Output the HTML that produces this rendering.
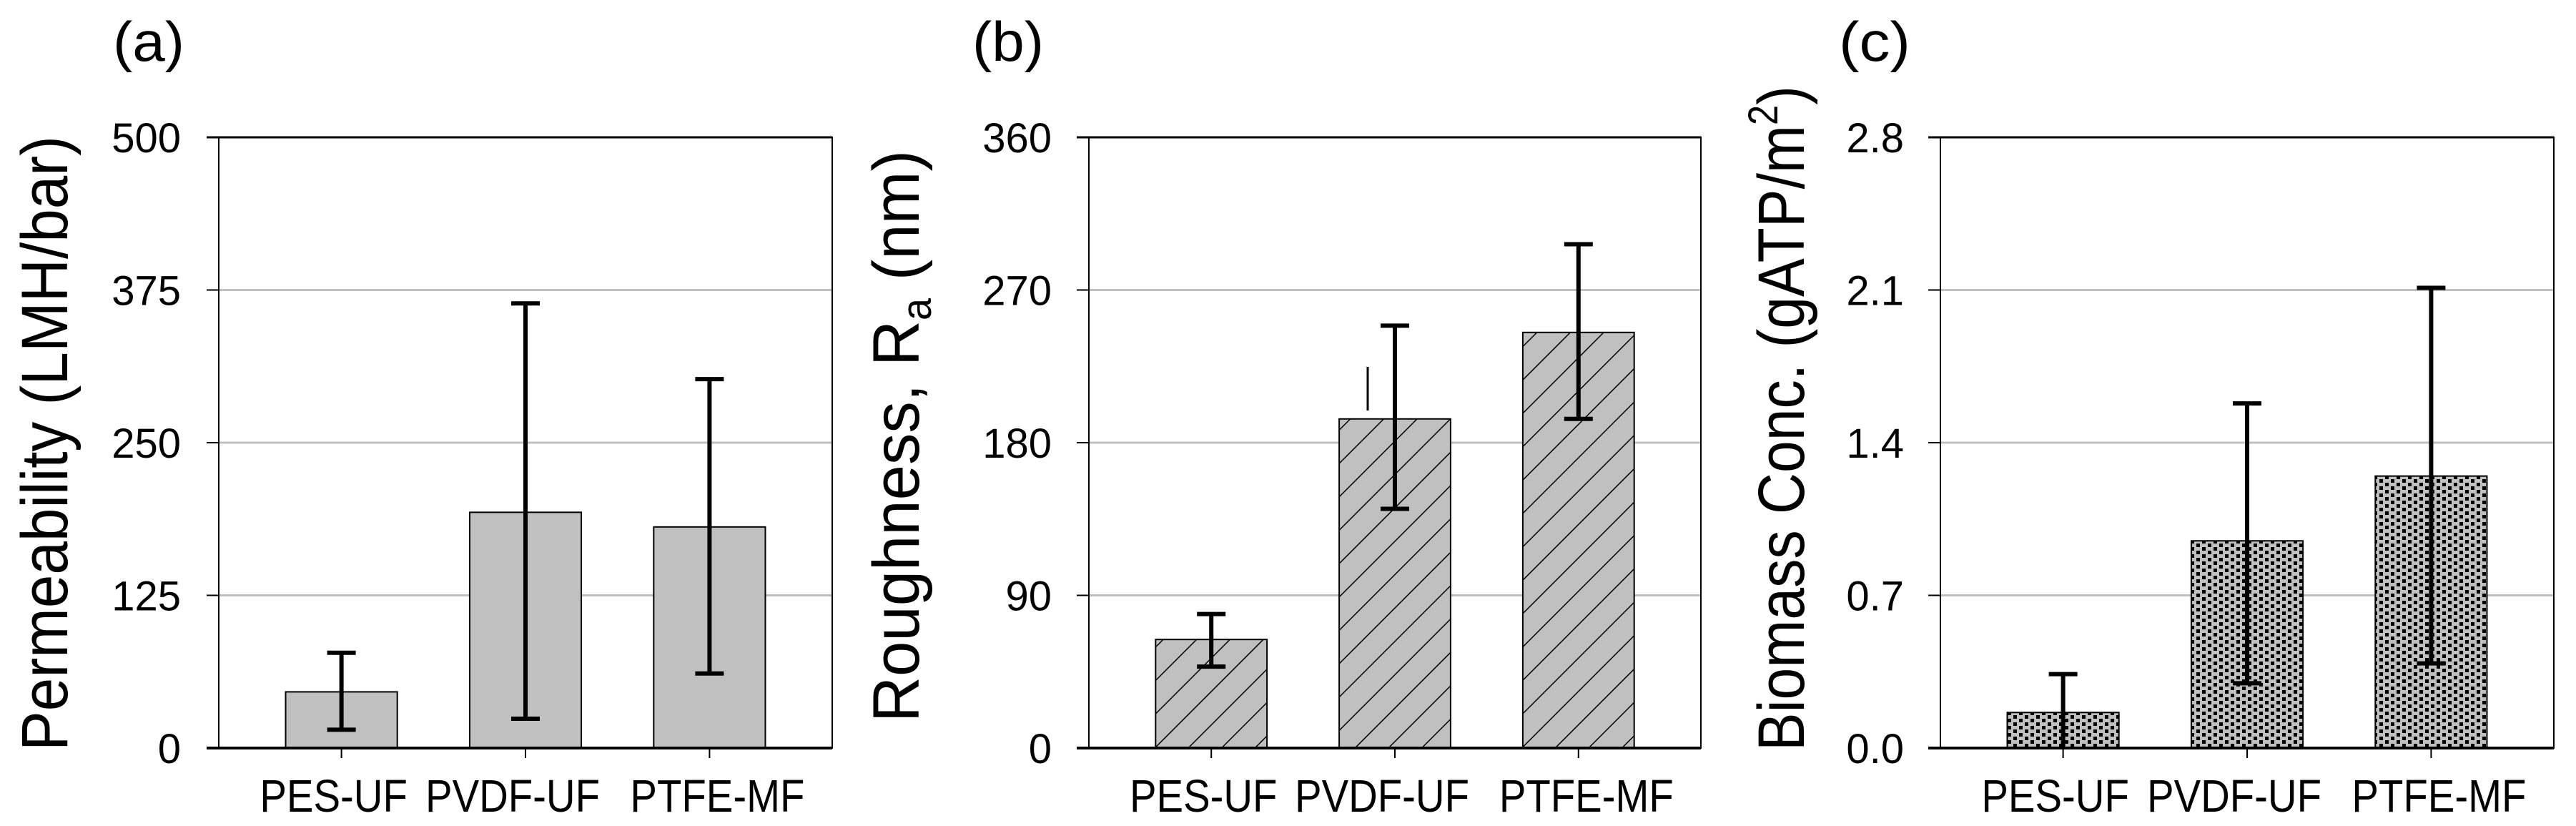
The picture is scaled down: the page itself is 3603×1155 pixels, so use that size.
<!DOCTYPE html>
<html><head><meta charset="utf-8"><style>
html,body{margin:0;padding:0;background:#fff;}
svg{display:block;font-family:"Liberation Sans",Arial,sans-serif;}
</style></head><body>
<svg id="fig" width="3603" height="1155" viewBox="0 0 3603 1155" xmlns="http://www.w3.org/2000/svg">
<defs>
<pattern id="hatch" patternUnits="userSpaceOnUse" width="33" height="33" patternTransform="rotate(45)">
<rect width="33" height="33" fill="#c0c0c0"/><line x1="0" y1="0" x2="0" y2="33" stroke="#000" stroke-width="3"/>
</pattern>
<pattern id="dots" patternUnits="userSpaceOnUse" width="16" height="10">
<rect width="16" height="10" fill="#c0c0c0"/><rect x="0" y="0" width="5" height="5" fill="#000"/><rect x="8" y="5" width="5" height="5" fill="#000"/>
</pattern>
</defs>
</svg>
<script>
const categories = ["PES-UF","PVDF-UF","PTFE-MF"];
const permValues = [46, 193, 181];
const permErrLow = [15, 24, 61];
const permErrHigh = [78, 364, 302];
const permTicks = ["0","125","250","375","500"];
const roughValues = [64, 194, 245];
const roughErrLow = [48, 141, 194];
const roughErrHigh = [79, 249, 297];
const roughTicks = ["0","90","180","270","360"];
const bioValues = [0.163, 0.95, 1.247];
const bioErrLow = [0, 0.297, 0.388];
const bioErrHigh = [0.339, 1.58, 2.11];
const bioTicks = ["0.0","0.7","1.4","2.1","2.8"];

const NS = "http://www.w3.org/2000/svg";
const svg = document.getElementById('fig');
function mk(tag, attrs, parent){
  const e = document.createElementNS(NS, tag);
  for (const k in attrs) e.setAttribute(k, attrs[k]);
  (parent||svg).appendChild(e);
  return e;
}
const T = 192, B = 1046;
const labelOffsets = [-11, -18, 11];

function panel(p){
  const g = mk('g', {});
  
  
  const L = p.left, R = p.right;
  const W = R - L;
  const max = parseFloat(p.ticks[p.ticks.length-1]);
  const y = v => B - (v / max) * (B - T);
  const xc = i => L + W * (0.2 + 0.3 * i);
  p.ticks.forEach((t, i) => {
    const v = parseFloat(t);
    if (i > 0 && i < p.ticks.length - 1) {
      const gl = mk('line', {x1: L, x2: R, y1: y(v), y2: y(v), stroke: '#c0c0c0', 'stroke-width': 3}, g);
      
      
    }
    const tk = mk('line', {x1: L - 17, x2: L, y1: y(v), y2: y(v), stroke: '#000', 'stroke-width': 2}, g);
    
    
    const tl = mk('text', {x: p.tickRight, y: y(v) + 21, 'text-anchor': 'end', 'font-size': 58}, g);
    tl.textContent = t;
    
    
  });
  p.values.forEach((v, i) => {
    const bw = W * 0.182;
    const r = mk('rect', {x: xc(i) - bw/2, y: y(v), width: bw, height: B - y(v), fill: p.fill, stroke: '#000', 'stroke-width': 2}, g);
    
    
  });
  p.values.forEach((v, i) => {
    const eg = mk('g', {stroke: '#000', 'stroke-width': 6}, g);
    
    
    const lo = Math.max(p.lo[i], 0), hi = p.hi[i];
    mk('line', {x1: xc(i), x2: xc(i), y1: y(hi), y2: y(lo)}, eg);
    mk('line', {x1: xc(i) - 20, x2: xc(i) + 20, y1: y(hi), y2: y(hi)}, eg);
    if (p.lo[i] > 0) mk('line', {x1: xc(i) - 20, x2: xc(i) + 20, y1: y(lo), y2: y(lo)}, eg);
  });
  const fr = mk('rect', {x: L, y: T, width: W, height: B - T, fill: 'none', stroke: '#000', 'stroke-width': 2}, g);
  
  
  const tp = mk('line', {x1: L - 17, x2: R, y1: T, y2: T, stroke: '#000', 'stroke-width': 3}, g);
  
  
  const ax = mk('line', {x1: L - 17, x2: R, y1: B, y2: B, stroke: '#000', 'stroke-width': 4}, g);
  
  
  const ay = mk('line', {x1: L, x2: L, y1: T, y2: B, stroke: '#000', 'stroke-width': 2}, g);
  
  
  categories.forEach((c, i) => {
    const t = mk('line', {x1: xc(i), x2: xc(i), y1: B, y2: B + 14, stroke: '#000', 'stroke-width': 2}, g);
    
    
    const tx = mk('text', {transform: 'translate(' + (xc(i) + labelOffsets[i]) + ',1135) scale(0.88,1)', 'text-anchor': 'middle', 'font-size': 64}, g);
    tx.textContent = c;
    
    
  });
  const pl = mk('text', {x: p.letterX, y: 85, 'font-size': 78, textLength: 100, lengthAdjust: 'spacingAndGlyphs'}, g);
  pl.textContent = p.letter;
  
  
  const yt = mk('text', {transform: 'translate(' + p.titleX + ',' + p.titleMid + ') rotate(-90)', 'text-anchor': 'middle', 'font-size': 92, textLength: p.titleLen, lengthAdjust: 'spacingAndGlyphs'}, g);
  yt.innerHTML = p.title;
  
  
}

panel({name:'panel-a-permeability', left:306, right:1164, tickRight:253, ticks:permTicks, values:permValues, lo:permErrLow, hi:permErrHigh, fill:'#c0c0c0', letter:'(a)', letterX:158, titleX:94, titleMid:620, titleLen:860, title:'Permeability (LMH/bar)'});
panel({name:'panel-b-roughness', left:1523, right:2379, tickRight:1471, ticks:roughTicks, values:roughValues, lo:roughErrLow, hi:roughErrHigh, fill:'url(#hatch)', letter:'(b)', letterX:1360, titleX:1285, titleMid:610, titleLen:800, title:'Roughness, R<tspan font-size="58" dy="17">a</tspan><tspan dy="-17"> (nm)</tspan>'});
panel({name:'panel-c-biomass', left:2714, right:3572, tickRight:2663, ticks:bioTicks, values:bioValues, lo:bioErrLow, hi:bioErrHigh, fill:'url(#dots)', letter:'(c)', letterX:2572, titleX:2523, titleMid:585, titleLen:930, title:'Biomass Conc.  (gATP/m<tspan font-size="58" dy="-37">2</tspan><tspan dy="37">)</tspan>'});
const stray = mk('line', {x1: 1913, x2: 1913, y1: 513, y2: 574, stroke: '#000', 'stroke-width': 3});


</script>
</body></html>
